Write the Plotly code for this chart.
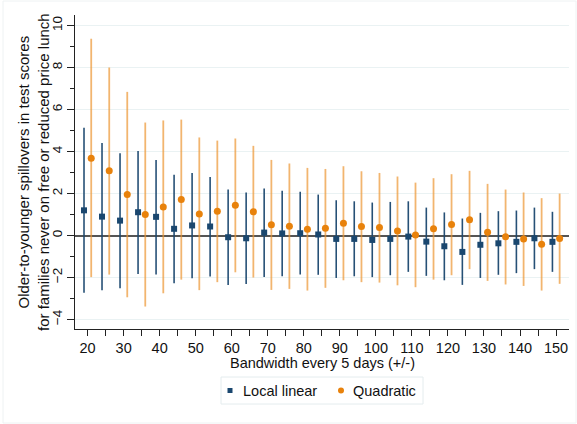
import plotly.graph_objects as go

# Bandwidths (days, +/-) and estimates with 95% confidence bounds
bandwidth = [20, 25, 30, 35, 40, 45, 50, 55, 60, 65, 70, 75, 80, 85,
             90, 95, 100, 105, 110, 115, 120, 125, 130, 135, 140, 145, 150]

ll_est = [1.20, 0.90, 0.71, 1.11, 0.89, 0.32, 0.48, 0.43, -0.08, -0.13, 0.14, 0.10, 0.11, 0.05,
          -0.16, -0.16, -0.21, -0.16, -0.05, -0.29, -0.51, -0.78, -0.44, -0.37, -0.30, -0.13, -0.30]
ll_hi = [5.13, 4.40, 3.92, 4.02, 3.60, 2.90, 2.98, 2.79, 2.19, 2.05, 2.24, 2.13, 2.08, 1.95,
         1.68, 1.63, 1.57, 1.60, 1.63, 1.33, 1.10, 0.81, 1.08, 1.16, 1.19, 1.33, 1.13]
ll_lo = [-2.73, -2.60, -2.51, -1.83, -1.86, -2.27, -2.03, -1.95, -2.35, -2.31, -1.97, -1.94, -1.86, -1.87,
         -2.02, -1.94, -1.98, -1.89, -1.73, -1.92, -2.13, -2.35, -2.02, -1.87, -1.79, -1.60, -1.73]

qd_est = [3.68, 3.08, 1.95, 1.00, 1.36, 1.71, 1.03, 1.16, 1.44, 1.13, 0.51, 0.44, 0.30, 0.35,
          0.59, 0.43, 0.38, 0.22, 0.03, 0.32, 0.52, 0.75, 0.16, -0.06, -0.16, -0.41, -0.14]
qd_hi = [9.37, 8.00, 6.84, 5.38, 5.48, 5.52, 4.67, 4.52, 4.62, 4.27, 3.60, 3.43, 3.22, 3.17,
         3.30, 3.06, 2.98, 2.81, 2.52, 2.73, 2.92, 3.08, 2.46, 2.19, 2.05, 1.78, 2.00]
qd_lo = [-1.98, -1.86, -2.94, -3.38, -2.75, -2.10, -2.60, -2.22, -1.75, -2.00, -2.59, -2.54, -2.62, -2.49,
         -2.13, -2.22, -2.24, -2.37, -2.46, -2.10, -1.89, -1.60, -2.16, -2.33, -2.40, -2.62, -2.30]

series_names = ["Local linear", "Quadratic"]
y_title = "Older-to-younger spillovers in test scores<br>for families never on free or reduced price lunch"
x_title = "Bandwidth every 5 days (+/-)"

NAVY = "#1a476f"
ORANGE = "#e8820c"
SHIFT = 1.0  # horizontal dodge between the two estimators

def series(name, est, lo, hi, shift, color, bar_color, bar_width, symbol, size):
    return go.Scatter(
        x=[b + shift for b in bandwidth],
        y=est,
        mode="markers",
        name=name,
        showlegend=False,
        marker=dict(color=color, symbol=symbol, size=size, line=dict(width=0)),
        error_y=dict(
            type="data",
            symmetric=False,
            array=[h - e for h, e in zip(hi, est)],
            arrayminus=[e - l for e, l in zip(est, lo)],
            color=bar_color,
            thickness=bar_width,
            width=0,
        ),
    )

fig = go.Figure()
fig.add_trace(series(series_names[0], ll_est, ll_lo, ll_hi, -SHIFT, NAVY,
                     "rgba(26,71,111,0.95)", 1.6, "square", 6))
fig.add_trace(series(series_names[1], qd_est, qd_lo, qd_hi, SHIFT, ORANGE,
                     "rgba(236,150,50,0.7)", 1.8, "circle", 7))

font = "Liberation Sans, Arial, sans-serif"

# plot area in pixels: x 75..569, y 15..329; helpers convert page pixels to paper units
L, T, PW, PH = 75.0, 15.0, 494.0, 314.0
def px(x):
    return (x - L) / PW
def py(y):
    return (T + PH - y) / PH

shapes = [
    # faint outer frame of the graph region
    dict(type="rect", xref="paper", yref="paper",
         x0=px(3), x1=px(576), y0=py(423), y1=py(1),
         line=dict(color="#eef2f3", width=1), layer="below"),
    # legend frame
    dict(type="rect", xref="paper", yref="paper",
         x0=px(221), x1=px(423), y0=py(404), y1=py(377),
         line=dict(color="#e4ecee", width=1), fillcolor="white"),
    # legend keys
    dict(type="rect", xref="paper", yref="paper",
         x0=px(227.5), x1=px(232.5), y0=py(393), y1=py(388),
         line=dict(width=0), fillcolor=NAVY),
    dict(type="circle", xref="paper", yref="paper",
         x0=px(338), x1=px(344), y0=py(393.5), y1=py(387.5),
         line=dict(width=0), fillcolor=ORANGE),
]

annotations = [
    dict(text=y_title, textangle=-90, xref="paper", yref="paper",
         x=px(33), y=0.5, xanchor="center", yanchor="middle",
         showarrow=False, font=dict(size=15), align="center"),
    dict(text=x_title, xref="paper", yref="paper",
         x=0.5, y=py(363), xanchor="center", yanchor="middle",
         showarrow=False, font=dict(size=14.5)),
    dict(text=series_names[0], xref="paper", yref="paper",
         x=px(241), y=py(391), xanchor="left", yanchor="middle",
         showarrow=False, font=dict(size=14.5)),
    dict(text=series_names[1], xref="paper", yref="paper",
         x=px(351), y=py(391), xanchor="left", yanchor="middle",
         showarrow=False, font=dict(size=14.5)),
]

fig.update_layout(
    width=577, height=424,
    margin=dict(l=75, r=8, t=15, b=95),
    paper_bgcolor="white",
    plot_bgcolor="white",
    font=dict(family=font, size=14, color="#111"),
    showlegend=False,
    xaxis=dict(
        range=[16.5, 153.6],
        tickmode="array",
        tickvals=list(range(20, 151, 10)),
        ticks="outside", ticklen=6, tickcolor="#222", tickwidth=1,
        minor=dict(tickvals=list(range(25, 151, 10)), ticks="outside", ticklen=6,
                   tickcolor="#222", tickwidth=1, showgrid=False),
        showline=True, linecolor="#222", linewidth=1,
        showgrid=False, zeroline=False,
        tickfont=dict(size=14.5),
    ),
    yaxis=dict(
        range=[-4.45, 10.5],
        tickmode="array",
        tickvals=list(range(-4, 11, 2)),
        tickangle=-90,
        ticks="outside", ticklen=7, tickcolor="#222", tickwidth=1,
        minor=dict(tickvals=list(range(-3, 11, 2)), ticks="outside", ticklen=4,
                   tickcolor="#222", tickwidth=1, showgrid=False),
        showline=True, linecolor="#222", linewidth=1,
        showgrid=True, gridcolor="#eaf2f3", gridwidth=1,
        zeroline=True, zerolinecolor="#555", zerolinewidth=1.5,
        tickfont=dict(size=13.5),
    ),
    shapes=shapes,
    annotations=annotations,
)

fig.write_html("out.html")
